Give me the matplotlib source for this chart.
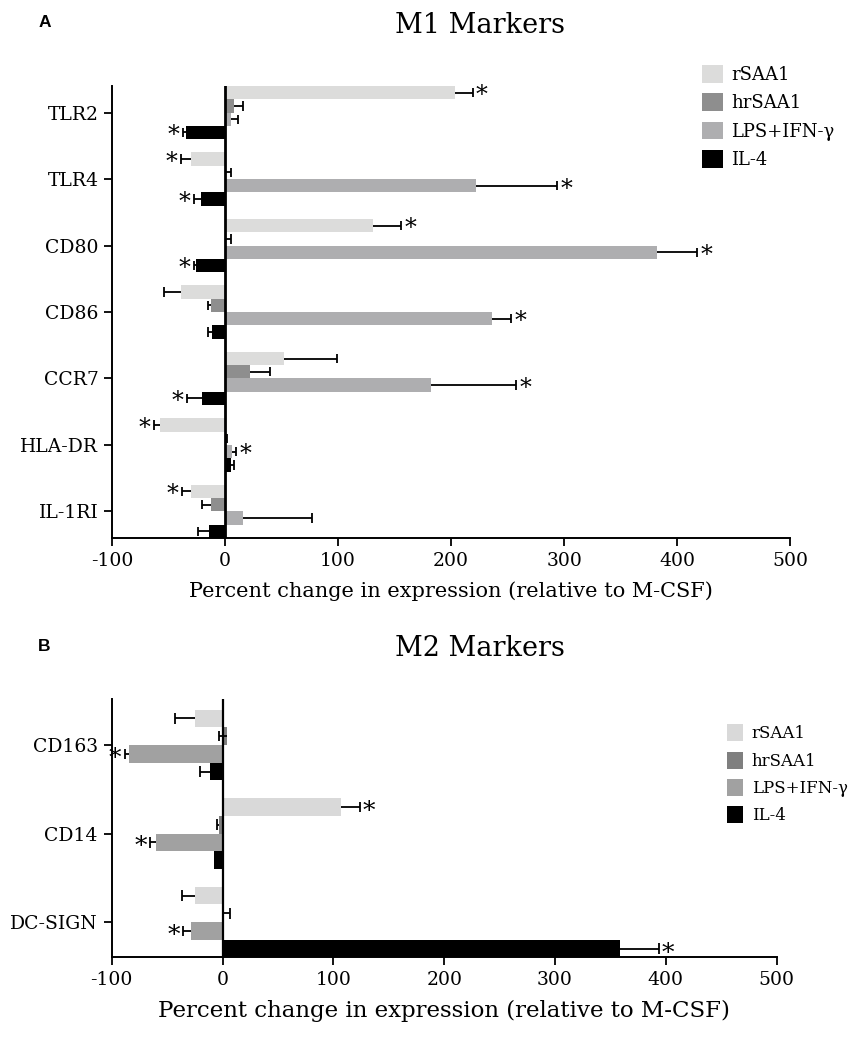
import matplotlib
matplotlib.use("Agg")
import matplotlib.pyplot as plt
from matplotlib.patches import Patch
import numpy as np

plt.rcParams['font.family'] = ['DejaVu Serif']

series = ["rSAA1", "hrSAA1", "LPS+IFN-\u03b3", "IL-4"]

# ---- Panel A: M1 markers ----
m1_markers = ["TLR2", "TLR4", "CD80", "CD86", "CCR7", "HLA-DR", "IL-1RI"]
m1_rsaa1 = [203, -30.5, 131, -39, 52, -57.5, -30.5]
m1_rsaa1_err = [219, -39, 156, -54, 98.7, -63.5, -38]
m1_rsaa1_sig = [True, True, True, False, False, True, True]
m1_hrsaa1 = [8, 1, 1, -12.5, 22, 1, -12.5]
m1_hrsaa1_err = [16, 5, 5, -15.5, 40, 2, -21]
m1_hrsaa1_sig = [False, False, False, False, False, False, False]
m1_lps = [4.7, 221.8, 382, 235.8, 182.6, 5.9, 15.9]
m1_lps_err = [11, 293.8, 418, 252.8, 257.4, 9.4, 77]
m1_lps_sig = [False, True, True, True, True, True, False]
m1_il4 = [-35, -21.7, -25.5, -11.5, -20.5, 4.7, -14.6]
m1_il4_err = [-37.5, -28, -27.5, -15.5, -34, 7.4, -24]
m1_il4_sig = [True, True, True, False, True, False, False]

# ---- Panel B: M2 markers ----
m2_markers = ["CD163", "CD14", "DC-SIGN"]
m2_rsaa1 = [-24.6, 107.1, -24.6]
m2_rsaa1_err = [-43.3, 123.7, -36.6]
m2_rsaa1_sig = [False, True, False]
m2_hrsaa1 = [4, -3, 0.5]
m2_hrsaa1_err = [-3.6, -5, 7]
m2_hrsaa1_sig = [False, False, False]
m2_lps = [-84.8, -60.1, -28.5]
m2_lps_err = [-88.4, -65.3, -35.7]
m2_lps_sig = [True, True, True]
m2_il4 = [-11.1, -8.1, 359]
m2_il4_err = [-20.1, -8.1, 393.5]
m2_il4_sig = [False, False, True]

xticks = [-100, 0, 100, 200, 300, 400, 500]
xlabel = "Percent change in expression (relative to M-CSF)"

colors_a = ["#dcdcdb", "#8e8e8e", "#aeaeb0", "#000000"]
colors_b = ["#d9d9d9", "#7f7f7f", "#a1a1a1", "#000000"]

fig = plt.figure(figsize=(8.52, 10.37), dpi=100)


def draw_panel(ax, markers, vals, errs, sigs, colors, ylim, zero_lw, cap_h,
               star_fs, tick_fs, label_fs):
    n = len(markers)
    y = np.arange(n)
    h = 0.2
    offs = [-0.3, -0.1, 0.1, 0.3]
    for k in range(4):
        v = np.array(vals[k], dtype=float)
        e = np.array(errs[k], dtype=float)
        yy = y + offs[k]
        ax.barh(yy, v, height=h, color=colors[k], edgecolor='none', zorder=2)
        for i in range(n):
            if abs(e[i] - v[i]) > 0.05:
                ax.hlines(yy[i], v[i], e[i], color='black', lw=1.3, zorder=3)
                ax.vlines(e[i], yy[i] - cap_h, yy[i] + cap_h, color='black',
                          lw=1.3, zorder=3)
            if sigs[k][i]:
                pos = e[i] >= 0 and v[i] >= 0
                xt = e[i] + (3 if pos else -3)
                ax.text(xt, yy[i] + 0.05, "*", ha='left' if pos else 'right',
                        va='center', fontsize=star_fs, zorder=4)
    ax.axvline(0, color='black', lw=zero_lw, zorder=5)
    ax.set_xlim(-100, 500)
    ax.set_ylim(*ylim)
    ax.set_yticks(y)
    ax.set_yticklabels(markers, fontsize=tick_fs)
    ax.set_xticks(xticks)
    ax.set_xticklabels([str(t) for t in xticks], fontsize=tick_fs)
    ax.set_xlabel(xlabel, fontsize=label_fs, labelpad=8)
    for s in ['top', 'right']:
        ax.spines[s].set_visible(False)
    for s in ['left', 'bottom']:
        ax.spines[s].set_linewidth(1.4)
    ax.tick_params(axis='both', direction='out', length=6, width=1.3, pad=4)


axA = fig.add_axes([0.1318, 0.4812, 0.7954, 0.4359])
draw_panel(axA, m1_markers,
           [m1_rsaa1, m1_hrsaa1, m1_lps, m1_il4],
           [m1_rsaa1_err, m1_hrsaa1_err, m1_lps_err, m1_il4_err],
           [m1_rsaa1_sig, m1_hrsaa1_sig, m1_lps_sig, m1_il4_sig],
           colors_a, (6.4, -0.4), 2.0, 0.07, 17, 13.5, 15)

axB = fig.add_axes([0.1311, 0.0774, 0.7805, 0.2482])
draw_panel(axB, m2_markers,
           [m2_rsaa1, m2_hrsaa1, m2_lps, m2_il4],
           [m2_rsaa1_err, m2_hrsaa1_err, m2_lps_err, m2_il4_err],
           [m2_rsaa1_sig, m2_hrsaa1_sig, m2_lps_sig, m2_il4_sig],
           colors_b, (2.39, -0.515), 1.6, 0.06, 18, 13.5, 16.5)

fig.text(0.563, 0.975, "M1 Markers", ha='center', va='center', fontsize=19.5)
fig.text(0.563, 0.375, "M2 Markers", ha='center', va='center', fontsize=19.5)
fig.text(0.045, 0.978, "A", ha='left', va='center', fontsize=12.5,
         fontweight='bold', family='Liberation Sans')
fig.text(0.045, 0.377, "B", ha='left', va='center', fontsize=12.5,
         fontweight='bold', family='Liberation Sans')

hA = [Patch(facecolor=c, edgecolor='none') for c in colors_a]
fig.legend(hA, series, loc='upper left', bbox_to_anchor=(0.815, 0.944),
           frameon=False, fontsize=13, handlelength=1.2, handleheight=1.15,
           handletextpad=0.45, labelspacing=0.5, borderaxespad=0)
hB = [Patch(facecolor=c, edgecolor='none') for c in colors_b]
fig.legend(hB, series, loc='upper left', bbox_to_anchor=(0.846, 0.308),
           frameon=False, fontsize=12, handlelength=0.95, handleheight=1.2,
           handletextpad=0.5, labelspacing=0.55, borderaxespad=0)

fig.savefig("out.png", dpi=100)
